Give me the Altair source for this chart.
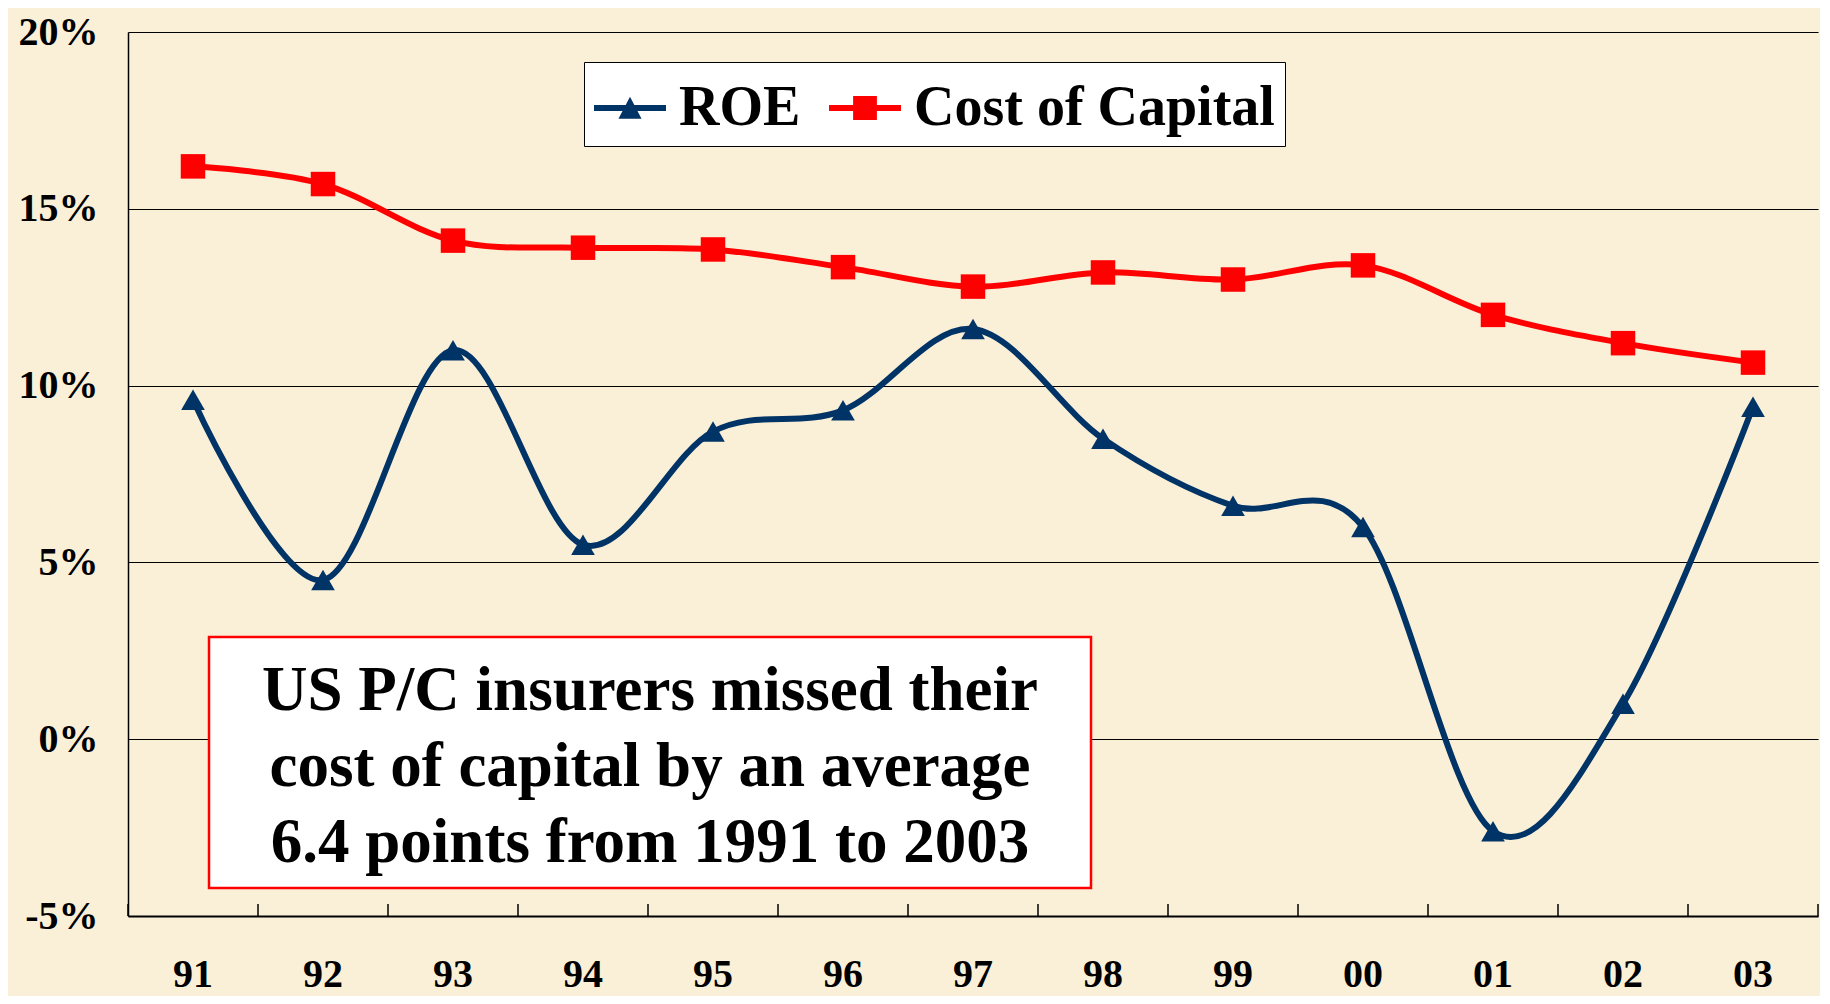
import altair as alt
import pandas as pd

years = ["91", "92", "93", "94", "95", "96", "97", "98", "99", "00", "01", "02", "03"]
roe = [9.6, 4.5, 11.0, 5.5, 8.7, 9.3, 11.6, 8.5, 6.6, 6.0, -2.6, 1.0, 9.4]
cost_of_capital = [16.2, 15.7, 14.1, 13.9, 13.85, 13.35, 12.8, 13.2, 13.0, 13.4, 12.0, 11.2, 10.65]
series_names = ["ROE", "Cost of Capital"]
series_colors = ["#003366", "#FF0000"]
y_ticks = [-5, 0, 5, 10, 15, 20]
note_lines = ["US P/C insurers missed their", "cost of capital by an average", "6.4 points from 1991 to 2003"]

FONT = "Liberation Serif"

rows = []
for y, v in zip(years, roe):
    rows.append({"year": y, "value": v, "series": "ROE"})
for y, v in zip(years, cost_of_capital):
    rows.append({"year": y, "value": v, "series": "Cost of Capital"})
df = pd.DataFrame(rows)
ticks_df = pd.DataFrame({"year": years})

x_scale = alt.Scale(type="band", domain=years, paddingInner=0, paddingOuter=0)
y_scale = alt.Scale(domain=[-5, 20], nice=False, zero=False)
color_scale = alt.Scale(domain=series_names, range=series_colors)

# legend symbols: line segment with marker
roe_sym = "M-1,-0.08 L1,-0.08 L1,0.08 L-1,0.08 Z M0,-0.31 L0.32,0.3 L-0.32,0.3 Z"
coc_sym = "M-1,-0.08 L1,-0.08 L1,0.08 L-1,0.08 Z M-0.33,-0.33 L0.33,-0.33 L0.33,0.33 L-0.33,0.33 Z"
shape_scale = alt.Scale(domain=series_names, range=[roe_sym, coc_sym])

x_enc = alt.X(
    "year:O", scale=x_scale, bandPosition=0.5, sort=years,
    axis=alt.Axis(title=None, labelAngle=0, labelAlign="center", labelBaseline="alphabetic",
                  tickSize=0, labelPadding=70,
                  labelFontSize=40, labelFont=FONT, labelFontWeight="bold",
                  labelColor="black", domainColor="black", domainWidth=2, grid=False),
)
y_enc = alt.Y(
    "value:Q", scale=y_scale,
    axis=alt.Axis(title=None, values=y_ticks, labelExpr="datum.value + '%'",
                  tickSize=0, labelPadding=30, labelFontSize=40, labelFont=FONT,
                  labelFontWeight="bold", labelColor="black", domainColor="black",
                  domainWidth=1.5, grid=True, gridColor="black", gridWidth=1.2, gridOpacity=1),
)

legend = alt.Legend(
    orient="none", legendX=456, legendY=30, direction="horizontal", title=None,
    fillColor="white", strokeColor="black", padding=10, labelFontSize=56,
    labelFont=FONT, labelFontWeight="bold", labelColor="black", symbolSize=5184,
    symbolStrokeWidth=0, symbolOpacity=1, columnPadding=28, labelOffset=13, labelLimit=900,
)

base = alt.Chart(df)

box = alt.Chart(pd.DataFrame({"a": [0]})).mark_rect(
    fill="white", stroke="#FF0000", strokeWidth=2.5
).encode(x=alt.value(81), x2=alt.value(963), y=alt.value(605), y2=alt.value(856))

note = alt.Chart(pd.DataFrame({"a": [0]})).mark_text(
    font=FONT, fontWeight="bold", fontSize=63, align="center", baseline="alphabetic",
    lineHeight=76, color="black"
).encode(x=alt.value(522), y=alt.value(678), text=alt.value(note_lines))

tick_rules = alt.Chart(ticks_df).mark_rule(color="black", strokeWidth=1.5).encode(
    x=alt.X("year:O", scale=x_scale, bandPosition=0, sort=years),
    y=alt.datum(-5), y2=alt.datum(-4.66),
)
end_rule = alt.Chart(ticks_df).transform_filter("datum.year == '03'").mark_rule(
    color="black", strokeWidth=1.5
).encode(
    x=alt.X("year:O", scale=x_scale, bandPosition=1, sort=years),
    y=alt.datum(-5), y2=alt.datum(-4.66),
)

lines = base.mark_line(interpolate="cardinal", strokeWidth=6, strokeCap="round").encode(
    x=x_enc, y=y_enc,
    color=alt.Color("series:N", scale=color_scale, legend=None),
    detail="series:N",
)

roe_pts = base.transform_filter("datum.series == 'ROE'").mark_point(
    filled=True, shape="triangle-up", size=560, opacity=1
).encode(x=x_enc, y=y_enc, color=alt.Color("series:N", scale=color_scale, legend=None))

coc_pts = base.transform_filter("datum.series == 'Cost of Capital'").mark_point(
    filled=True, shape="square", size=600, opacity=1
).encode(x=x_enc, y=y_enc, color=alt.Color("series:N", scale=color_scale, legend=None))

legend_layer = base.mark_point(filled=True, opacity=0).encode(
    x=x_enc, y=y_enc,
    color=alt.Color("series:N", scale=color_scale, legend=legend),
    shape=alt.Shape("series:N", scale=shape_scale, legend=legend),
)

chart = alt.layer(
    box, note, tick_rules, end_rule, lines, roe_pts, coc_pts, legend_layer
).resolve_legend(
    color="independent", shape="independent"
).properties(
    width=1690, height=884,
    padding={"left": 120, "top": 24, "right": 2, "bottom": 80},
    autosize=alt.AutoSizeParams(type="none"),
    background="#FAF0D8",
).configure_view(stroke=None)

chart.save("out.html", embed_options={"renderer": "svg", "actions": False})
